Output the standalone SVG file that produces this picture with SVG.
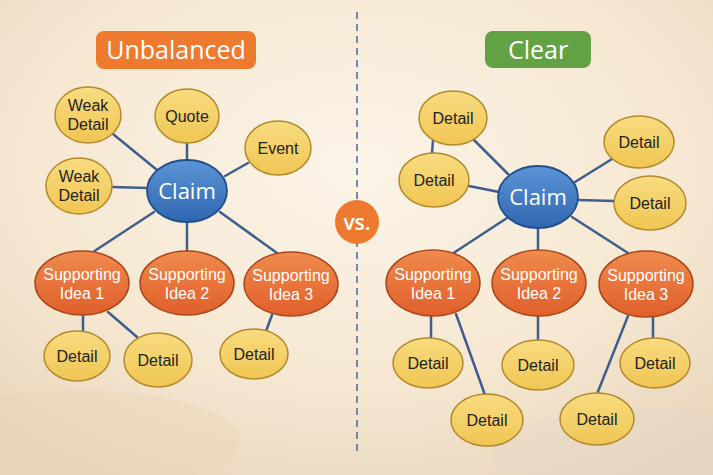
<svg xmlns="http://www.w3.org/2000/svg" width="713" height="475" viewBox="0 0 713 475">
<defs>
  <radialGradient id="bg" cx="50%" cy="35%" r="75%">
    <stop offset="0" stop-color="#fbf4e8"/>
    <stop offset="0.6" stop-color="#f6e8d2"/>
    <stop offset="1" stop-color="#e9d6bd"/>
  </radialGradient>
  <linearGradient id="yel" x1="0" y1="0" x2="0" y2="1">
    <stop offset="0" stop-color="#f8dc80"/>
    <stop offset="1" stop-color="#f0c653"/>
  </linearGradient>
  <linearGradient id="blu" x1="0" y1="0" x2="0" y2="1">
    <stop offset="0" stop-color="#5b95d6"/>
    <stop offset="1" stop-color="#2f66b0"/>
  </linearGradient>
  <linearGradient id="org" x1="0" y1="0" x2="0" y2="1">
    <stop offset="0" stop-color="#ef8a4d"/>
    <stop offset="1" stop-color="#e05f2a"/>
  </linearGradient>
</defs>
<style>
  .det ellipse { fill: url(#yel); stroke: #b38a2e; stroke-width: 1.5; }
  .det text { font-family: "Liberation Sans", Arial, sans-serif; font-size: 16px; fill: #222; text-anchor: middle; }
  .claim ellipse { fill: url(#blu); stroke: #224f8a; stroke-width: 1.8; }
  .claim text { font-family: "Open Sans", "Noto Sans", sans-serif; font-size: 22px; fill: #fff; text-anchor: middle; }
  .sup ellipse { fill: url(#org); stroke: #a9461c; stroke-width: 1.5; }
  .sup text { font-family: "Liberation Sans", Arial, sans-serif; font-size: 16px; fill: #fff; text-anchor: middle; }
  .title text { font-family: "Open Sans", "Noto Sans", sans-serif; font-size: 25px; fill: #fff; text-anchor: middle; }
  .conn line { stroke: #3f5e8e; stroke-width: 2.5; stroke-linecap: round; }
</style>
<rect width="713" height="475" fill="url(#bg)"/>
<ellipse cx="80" cy="440" rx="160" ry="50" fill="#e8cfae" opacity="0.25"/>
<ellipse cx="640" cy="450" rx="150" ry="40" fill="#dcd6cc" opacity="0.25"/>

<line x1="357" y1="12" x2="357" y2="452" stroke="#4a6a96" stroke-width="1.5" stroke-dasharray="7 5"/>

<g id="title-unbalanced" class="title">
  <rect x="96" y="31" width="160" height="38" rx="8" fill="#ee7a30"/>
  <text x="176" y="59">Unbalanced</text>
</g>
<g id="title-clear" class="title">
  <rect x="485" y="31" width="106" height="37" rx="8" fill="#63a145"/>
  <text x="538" y="59">Clear</text>
</g>
<g id="vs">
  <circle cx="357" cy="222" r="22" fill="#ee7a30"/>
  <text x="357" y="230" font-family="Open Sans, Noto Sans, sans-serif" font-size="21" font-weight="600" fill="#fff" text-anchor="middle">vs.</text>
</g>

<g id="connectors" class="conn">
  <line x1="113" y1="134" x2="157" y2="170"/>
  <line x1="187" y1="142" x2="187" y2="161"/>
  <line x1="248" y1="163" x2="225" y2="176"/>
  <line x1="112" y1="187" x2="148" y2="188"/>
  <line x1="154" y1="212" x2="93" y2="252"/>
  <line x1="187" y1="222" x2="187" y2="251"/>
  <line x1="220" y1="212" x2="277" y2="253"/>
  <line x1="83" y1="315" x2="83" y2="332"/>
  <line x1="108" y1="312" x2="137" y2="337"/>
  <line x1="272" y1="315" x2="266" y2="331"/>

  <line x1="474" y1="140" x2="508" y2="174"/>
  <line x1="433" y1="140" x2="432" y2="153"/>
  <line x1="469" y1="186" x2="499" y2="192"/>
  <line x1="612" y1="159" x2="575" y2="182"/>
  <line x1="614" y1="201" x2="578" y2="200"/>
  <line x1="507" y1="218" x2="452" y2="254"/>
  <line x1="538" y1="228" x2="538" y2="251"/>
  <line x1="572" y1="217" x2="628" y2="253"/>
  <line x1="431" y1="316" x2="431" y2="338"/>
  <line x1="456" y1="314" x2="485" y2="395"/>
  <line x1="538" y1="316" x2="538" y2="340"/>
  <line x1="628" y1="316" x2="597" y2="394"/>
  <line x1="653" y1="316" x2="653" y2="338"/>
</g>

<g id="l-weak1" class="det"><ellipse cx="88" cy="115" rx="33" ry="28"/><text x="88" y="111">Weak</text><text x="88" y="130">Detail</text></g>
<g id="l-quote" class="det"><ellipse cx="187" cy="116" rx="32" ry="27"/><text x="187" y="122">Quote</text></g>
<g id="l-event" class="det"><ellipse cx="278" cy="148" rx="33" ry="27"/><text x="278" y="154">Event</text></g>
<g id="l-weak2" class="det"><ellipse cx="79" cy="186" rx="33" ry="28"/><text x="79" y="182">Weak</text><text x="79" y="201">Detail</text></g>
<g id="l-claim" class="claim"><ellipse cx="187" cy="191" rx="40" ry="31"/><text x="187" y="199">Claim</text></g>
<g id="l-sup1" class="sup"><ellipse cx="82" cy="283" rx="47" ry="32"/><text x="82" y="280">Supporting</text><text x="82" y="299">Idea 1</text></g>
<g id="l-sup2" class="sup"><ellipse cx="187" cy="283" rx="47" ry="32"/><text x="187" y="280">Supporting</text><text x="187" y="299">Idea 2</text></g>
<g id="l-sup3" class="sup"><ellipse cx="291" cy="284" rx="47" ry="32"/><text x="291" y="281">Supporting</text><text x="291" y="300">Idea 3</text></g>
<g id="l-det1" class="det"><ellipse cx="77" cy="356" rx="33" ry="25"/><text x="77" y="362">Detail</text></g>
<g id="l-det2" class="det"><ellipse cx="158" cy="360" rx="34" ry="27"/><text x="158" y="366">Detail</text></g>
<g id="l-det3" class="det"><ellipse cx="254" cy="354" rx="34" ry="25"/><text x="254" y="360">Detail</text></g>

<g id="r-det-tl" class="det"><ellipse cx="453" cy="118" rx="34" ry="27"/><text x="453" y="124">Detail</text></g>
<g id="r-det-l" class="det"><ellipse cx="434" cy="180" rx="35" ry="27"/><text x="434" y="186">Detail</text></g>
<g id="r-claim" class="claim"><ellipse cx="538" cy="197" rx="40" ry="31"/><text x="538" y="205">Claim</text></g>
<g id="r-det-tr" class="det"><ellipse cx="639" cy="142" rx="35" ry="26"/><text x="639" y="148">Detail</text></g>
<g id="r-det-r" class="det"><ellipse cx="650" cy="203" rx="36" ry="27"/><text x="650" y="209">Detail</text></g>
<g id="r-sup1" class="sup"><ellipse cx="433" cy="283" rx="47" ry="33"/><text x="433" y="280">Supporting</text><text x="433" y="299">Idea 1</text></g>
<g id="r-sup2" class="sup"><ellipse cx="539" cy="283" rx="47" ry="33"/><text x="539" y="280">Supporting</text><text x="539" y="299">Idea 2</text></g>
<g id="r-sup3" class="sup"><ellipse cx="646" cy="284" rx="47" ry="33"/><text x="646" y="281">Supporting</text><text x="646" y="300">Idea 3</text></g>
<g id="r-det1" class="det"><ellipse cx="428" cy="363" rx="35" ry="25"/><text x="428" y="369">Detail</text></g>
<g id="r-det2" class="det"><ellipse cx="487" cy="420" rx="36" ry="26"/><text x="487" y="426">Detail</text></g>
<g id="r-det3" class="det"><ellipse cx="538" cy="365" rx="36" ry="25"/><text x="538" y="371">Detail</text></g>
<g id="r-det4" class="det"><ellipse cx="597" cy="419" rx="37" ry="26"/><text x="597" y="425">Detail</text></g>
<g id="r-det5" class="det"><ellipse cx="655" cy="363" rx="35" ry="25"/><text x="655" y="369">Detail</text></g>
</svg>
